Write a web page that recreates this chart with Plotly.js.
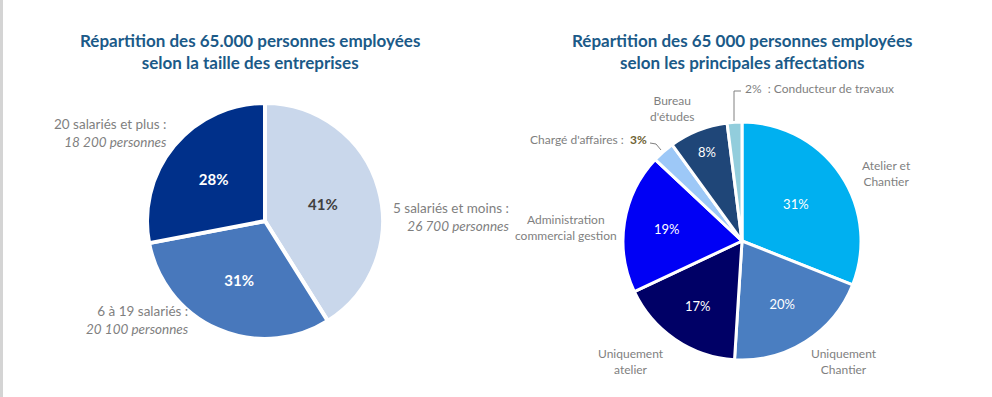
<!DOCTYPE html>
<html>
<head>
<meta charset="utf-8">
<script src="https://cdn.plot.ly/plotly-3.0.1.min.js"></script>
<style>html,body{margin:0;padding:0;background:#fff;}#chart{width:992px;height:397px;}</style>
</head>
<body>
<div id="chart"></div>
<script>
// Left chart: company size
const sizeLabels = ["5 salariés et moins", "6 à 19 salariés", "20 salariés et plus"];
const sizeValues = [26700, 20100, 18200];
const sizeColors = ["#C9D7EB", "#4878BC", "#00308A"];
const sizeTextColors = ["#404040", "#FFFFFF", "#FFFFFF"];

// Right chart: main assignments (percent)
const roleLabels = ["Atelier et Chantier", "Uniquement Chantier", "Uniquement atelier",
  "Administration commercial gestion", "Chargé d'affaires", "Bureau d'études", "Conducteur de travaux"];
const roleValues = [31, 20, 17, 19, 3, 8, 2];
const roleColors = ["#00B0F0", "#4A7EC1", "#000066", "#0000F5", "#9DC8F7", "#1F4678", "#92CDDC"];
const roleShowInside = [true, true, true, true, false, true, false];

const W = 992, H = 397;
const px = x => x / W;
const py = y => 1 - y / H;

const gray = "#7F7F7F";
const titleColor = "#1B5A88";
const FONT = "Lato, 'Open Sans', sans-serif";

const traces = [
  {
    type: "pie",
    labels: sizeLabels,
    values: sizeValues,
    sort: false,
    direction: "clockwise",
    rotation: 0,
    marker: {colors: sizeColors, line: {color: "#FFFFFF", width: 4}},
    textposition: "inside",
    insidetextorientation: "horizontal",
    texttemplate: "%{percent:.0%}",
    textfont: {family: FONT, size: 15, color: sizeTextColors, weight: "bold"},
    hoverinfo: "label+value+percent",
    showlegend: false,
    domain: {x: [px(147), px(383)], y: [py(339), py(103)]}
  },
  {
    type: "pie",
    labels: roleLabels,
    values: roleValues,
    sort: false,
    direction: "clockwise",
    rotation: 0,
    marker: {colors: roleColors, line: {color: "#FFFFFF", width: 3}},
    textposition: "inside",
    insidetextorientation: "horizontal",
    texttemplate: roleShowInside.map(s => s ? "%{percent:.0%}" : ""),
    textfont: {family: FONT, size: 13, color: "#FFFFFF"},
    hoverinfo: "label+value+percent",
    showlegend: false,
    domain: {x: [px(623), px(861)], y: [py(360), py(122)]}
  }
];

function ann(x, y, text, opts) {
  return Object.assign({
    xref: "paper", yref: "paper", x: px(x), y: py(y), text: text,
    showarrow: false, xanchor: "center", yanchor: "middle",
    font: {family: FONT, size: 12, color: gray}
  }, opts || {});
}

const leftFont = {family: FONT, size: 13.5, color: gray};

const annotations = [
  ann(250, 51, "<b>Répartition des 65.000 personnes employées<br>selon la taille des entreprises</b>",
    {font: {family: FONT, size: 17, color: titleColor}}),
  ann(742, 51, "<b>Répartition des 65 000 personnes employées<br>selon les principales affectations</b>",
    {font: {family: FONT, size: 17, color: titleColor}}),

  ann(169, 133, "20 salariés et plus :<br><i>18 200 personnes</i>", {xanchor: "right", align: "right", font: leftFont}),
  ann(512, 217, "5 salariés et moins :<br><i>26 700 personnes</i>", {xanchor: "right", align: "right", font: leftFont}),
  ann(191, 320, "6 à 19 salariés :<br><i>20 100 personnes</i>", {xanchor: "right", align: "right", font: leftFont}),

  ann(743, 88, "2%  : Conducteur de travaux", {xanchor: "left"}),
  ann(672, 108, "Bureau<br>d'études"),
  ann(649, 139, "Chargé d'affaires :  <b><span style='color:#6E6233'>3%</span></b>", {xanchor: "right"}),
  ann(566, 227, "Administration<br>commercial gestion"),
  ann(886, 174, "Atelier et<br>Chantier"),
  ann(844, 361, "Uniquement<br>Chantier"),
  ann(631, 361, "Uniquement<br>atelier")
];

const shapes = [
  {type: "path", xref: "paper", yref: "paper",
   path: `M ${px(734)} ${py(121)} L ${px(734)} ${py(91)} L ${px(741)} ${py(91)}`,
   line: {color: "#808080", width: 1}},
  {type: "path", xref: "paper", yref: "paper",
   path: `M ${px(650)} ${py(143)} L ${px(656)} ${py(144)} L ${px(661)} ${py(150)}`,
   line: {color: "#808080", width: 1}},
  {type: "line", xref: "paper", yref: "paper", x0: px(1.5), x1: px(1.5), y0: 0, y1: 1,
   line: {color: "#D4D4D4", width: 3}}
];

const layout = {
  width: W, height: H,
  margin: {l: 0, r: 0, t: 0, b: 0},
  paper_bgcolor: "#FFFFFF",
  plot_bgcolor: "#FFFFFF",
  font: {family: FONT, color: gray},
  annotations: annotations,
  shapes: shapes,
  showlegend: false
};

Plotly.newPlot("chart", traces, layout, {displayModeBar: false, staticPlot: true});
</script>
</body>
</html>
